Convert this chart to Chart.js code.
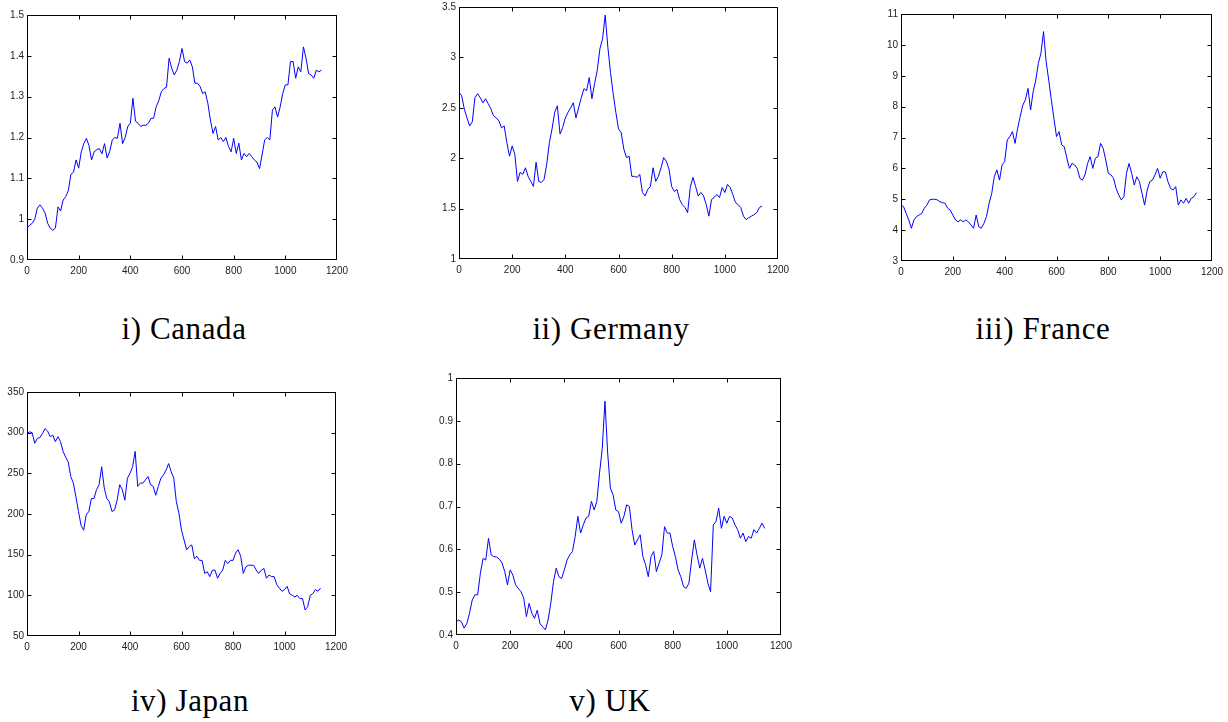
<!DOCTYPE html>
<html>
<head>
<meta charset="utf-8">
<title>Exchange rates</title>
<script src="https://cdn.jsdelivr.net/npm/chart.js@4/dist/chart.umd.min.js"></script>
<style>
    html, body { margin: 0; padding: 0; background: #fff; }
    body { position: relative; width: 1228px; height: 722px; overflow: hidden; }
    canvas { position: absolute; }
    .cap {
        position: absolute; width: 300px; margin-left: -150px; text-align: center;
        font-family: "Liberation Serif", serif; font-size: 31px; line-height: 30px;
        letter-spacing: 0.6px; color: #000; white-space: nowrap;
    }
</style>
</head>
<body>
<canvas id="canada"></canvas>
<canvas id="germany"></canvas>
<canvas id="france"></canvas>
<canvas id="japan"></canvas>
<canvas id="uk"></canvas>
<div class="cap" style="left:184px;top:314px">i) Canada</div>
<div class="cap" style="left:611px;top:314px">ii) Germany</div>
<div class="cap" style="left:1043px;top:314px">iii) France</div>
<div class="cap" style="left:190px;top:686px">iv) Japan</div>
<div class="cap" style="left:610px;top:686px">v) UK</div>

<script>
// trading days (sampled every 10)
const days = [
    0, 10, 20, 30, 40, 50, 60, 70, 80, 90,
    100, 110, 120, 130, 140, 150, 160, 170, 180, 190,
    200, 210, 220, 230, 240, 250, 260, 270, 280, 290,
    300, 310, 320, 330, 340, 350, 360, 370, 380, 390,
    400, 410, 420, 430, 440, 450, 460, 470, 480, 490,
    500, 510, 520, 530, 540, 550, 560, 570, 580, 590,
    600, 610, 620, 630, 640, 650, 660, 670, 680, 690,
    700, 710, 720, 730, 740, 750, 760, 770, 780, 790,
    800, 810, 820, 830, 840, 850, 860, 870, 880, 890,
    900, 910, 920, 930, 940, 950, 960, 970, 980, 990,
    1000, 1010, 1020, 1030, 1040, 1050, 1060, 1070, 1080, 1090,
    1100, 1110, 1120, 1130, 1140
];

const canadaRate = [
    0.978, 0.985, 0.99, 1.0, 1.027, 1.035, 1.027, 1.015, 0.99, 0.978,
    0.973, 0.978, 1.03, 1.02, 1.047, 1.055, 1.07, 1.11, 1.115, 1.145,
    1.125, 1.165, 1.185, 1.198, 1.18, 1.145, 1.165, 1.17, 1.173, 1.16,
    1.185, 1.15, 1.165, 1.194, 1.2, 1.198, 1.235, 1.185, 1.2, 1.227,
    1.235, 1.296, 1.24, 1.235, 1.227, 1.23, 1.23, 1.235, 1.247, 1.247,
    1.275, 1.29, 1.312, 1.32, 1.323, 1.394, 1.37, 1.353, 1.365, 1.386,
    1.418, 1.386, 1.382, 1.39, 1.373, 1.333, 1.333, 1.325, 1.308, 1.312,
    1.284, 1.243, 1.21, 1.227, 1.194, 1.2, 1.19, 1.2, 1.178, 1.165,
    1.198, 1.161, 1.186, 1.145, 1.161, 1.153, 1.161, 1.153, 1.145, 1.14,
    1.124, 1.157, 1.194, 1.2, 1.194, 1.267, 1.275, 1.25, 1.275, 1.308,
    1.329, 1.329, 1.386, 1.386, 1.345, 1.373, 1.361, 1.422, 1.394, 1.357,
    1.353, 1.345, 1.365, 1.361, 1.365
];

const germanyRate = [
    2.653, 2.62, 2.487, 2.40, 2.32, 2.36, 2.60, 2.64, 2.60, 2.55,
    2.59, 2.54, 2.49, 2.42, 2.40, 2.37, 2.30, 2.32, 2.155, 2.02,
    2.12, 2.04, 1.77, 1.86, 1.84, 1.905, 1.82, 1.77, 1.72, 1.96,
    1.77, 1.76, 1.79, 1.94, 2.155, 2.29, 2.455, 2.52, 2.24, 2.305,
    2.40, 2.455, 2.50, 2.55, 2.40, 2.50, 2.60, 2.69, 2.67, 2.80,
    2.59, 2.74, 2.87, 3.085, 3.185, 3.42, 3.10, 2.85, 2.64, 2.455,
    2.29, 2.255, 2.09, 2.006, 2.02, 1.82, 1.82, 1.81, 1.84, 1.66,
    1.625, 1.69, 1.72, 1.905, 1.77, 1.82, 1.905, 2.006, 1.97, 1.89,
    1.72, 1.67, 1.69, 1.59, 1.54, 1.51, 1.46, 1.71, 1.81, 1.72,
    1.625, 1.66, 1.625, 1.54, 1.425, 1.59, 1.61, 1.64, 1.61, 1.71,
    1.66, 1.74, 1.71, 1.64, 1.56, 1.54, 1.51, 1.425, 1.39, 1.41,
    1.425, 1.44, 1.46, 1.51, 1.525
];

const franceRate = [
    4.81, 4.76, 4.54, 4.33, 4.06, 4.33, 4.44, 4.49, 4.54, 4.71,
    4.81, 4.98, 5.0, 5.0, 4.98, 4.92, 4.89, 4.87, 4.71, 4.65,
    4.49, 4.33, 4.27, 4.33, 4.27, 4.33, 4.27, 4.17, 4.06, 4.49,
    4.11, 4.06, 4.22, 4.44, 4.87, 5.19, 5.73, 5.95, 5.62, 6.11,
    6.22, 6.92, 7.03, 7.19, 6.81, 7.30, 7.68, 8.05, 8.22, 8.59,
    7.89, 8.49, 8.86, 9.40, 9.73, 10.43, 9.46, 8.86, 8.22, 7.62,
    7.03, 7.19, 6.76, 6.70, 6.33, 6.0, 6.16, 6.11, 6.0, 5.68,
    5.62, 5.79, 6.16, 6.38, 6.0, 6.33, 6.38, 6.81, 6.65, 6.27,
    5.84, 5.79, 5.68, 5.35, 5.14, 4.98, 5.08, 5.84, 6.16, 5.84,
    5.46, 5.73, 5.57, 5.19, 4.81, 5.30, 5.57, 5.62, 5.79, 6.0,
    5.68, 5.89, 5.89, 5.57, 5.35, 5.30, 5.41, 4.81, 4.98, 4.87,
    5.03, 4.87, 5.03, 5.08, 5.21
];

const japanRate = [
    299, 301, 300, 287, 293, 294, 299, 305, 302, 295,
    297, 289, 295, 289, 277, 270, 264, 246, 238, 221,
    203, 186, 180, 199, 203, 219, 219, 230, 236, 258,
    232, 219, 215, 203, 205, 217, 236, 230, 217, 244,
    250, 258, 277, 234, 238, 238, 242, 246, 236, 234,
    223, 234, 244, 248, 254, 262, 252, 244, 215, 201,
    180, 168, 156, 160, 162, 145, 148, 143, 143, 127,
    129, 123, 131, 131, 121, 127, 131, 143, 139, 143,
    143, 152, 156, 148, 127, 135, 137, 137, 137, 131,
    127, 131, 133, 121, 125, 123, 123, 113, 109, 105,
    107, 111, 102, 100, 98, 100, 96, 96, 82, 86,
    100, 102, 107, 105, 109
];

const ukRate = [
    0.431, 0.435, 0.431, 0.416, 0.427, 0.451, 0.482, 0.494, 0.494, 0.544,
    0.579, 0.575, 0.626, 0.587, 0.583, 0.582, 0.577, 0.568, 0.548, 0.517,
    0.552, 0.540, 0.517, 0.509, 0.501, 0.486, 0.443, 0.474, 0.451, 0.439,
    0.458, 0.427, 0.419, 0.412, 0.435, 0.474, 0.525, 0.556, 0.536, 0.532,
    0.552, 0.575, 0.587, 0.595, 0.630, 0.677, 0.638, 0.657, 0.673, 0.677,
    0.712, 0.692, 0.712, 0.778, 0.836, 0.946, 0.825, 0.743, 0.727, 0.692,
    0.688, 0.661, 0.677, 0.704, 0.700, 0.646, 0.610, 0.622, 0.634, 0.583,
    0.564, 0.536, 0.583, 0.595, 0.548, 0.568, 0.587, 0.653, 0.638, 0.638,
    0.607, 0.583, 0.552, 0.536, 0.513, 0.509, 0.521, 0.575, 0.622, 0.587,
    0.556, 0.579, 0.552, 0.521, 0.501, 0.657, 0.665, 0.696, 0.649, 0.677,
    0.661, 0.677, 0.673, 0.657, 0.646, 0.626, 0.638, 0.618, 0.630, 0.626,
    0.646, 0.638, 0.649, 0.661, 0.649
];

// y-axis ranges: [min, max, step]
const canadaAxis = [0.9, 1.5, 0.1];
const germanyAxis = [1, 3.5, 0.5];
const franceAxis = [3, 11, 1];
const japanAxis = [50, 350, 50];
const ukAxis = [0.4, 1, 0.1];

(function () {
    const PAD_L = 30, PAD_T = 8, PAD_R = 16, PAD_B = 22;
    const TICK = 4;

    // plain numbers, no grouping and no trailing ".0"
    const plain = (v) => String(Math.round(v * 1e6) / 1e6);

    // matlab-style frame: box round the plot, ticks pointing inward on all sides
    const boxTicks = {
        id: "boxTicks",
        afterDraw(chart) {
            const { ctx, scales: { x, y } } = chart;
            const a = chart.chartArea;
            const l = Math.round(a.left) + 0.5, r = Math.round(a.right) - 0.5;
            const t = Math.round(a.top) + 0.5, b = Math.round(a.bottom) - 0.5;
            ctx.save();
            ctx.strokeStyle = "#000";
            ctx.lineWidth = 1;
            ctx.beginPath();
            x.ticks.forEach(tk => {
                const px = Math.round(x.getPixelForValue(tk.value)) + 0.5;
                if (px <= l + 1 || px >= r - 1) return;
                ctx.moveTo(px, b); ctx.lineTo(px, b - TICK);
                ctx.moveTo(px, t); ctx.lineTo(px, t + TICK);
            });
            y.ticks.forEach(tk => {
                const py = Math.round(y.getPixelForValue(tk.value)) + 0.5;
                if (py <= t + 1 || py >= b - 1) return;
                ctx.moveTo(l, py); ctx.lineTo(l + TICK, py);
                ctx.moveTo(r, py); ctx.lineTo(r - TICK, py);
            });
            ctx.stroke();
            ctx.strokeRect(l, t, r - l, b - t);
            ctx.restore();
        }
    };

    const tickFont = { family: "'Liberation Sans', Arial, sans-serif", size: 10 };

    function panel(id, box, values, axis) {
        const [left, top, right, bottom] = box;
        const canvas = document.getElementById(id);
        const w = right - left + PAD_L + PAD_R;
        const h = bottom - top + PAD_T + PAD_B;
        canvas.width = w; canvas.height = h;
        canvas.style.left = (left - PAD_L) + "px";
        canvas.style.top = (top - PAD_T) + "px";
        canvas.style.width = w + "px";
        canvas.style.height = h + "px";

        return new Chart(canvas, {
            type: "line",
            data: {
                datasets: [{
                    data: days.map((d, i) => ({ x: d, y: values[i] })),
                    borderColor: "#0000ff",
                    borderWidth: 1,
                    pointRadius: 0,
                    tension: 0
                }]
            },
            options: {
                responsive: false,
                animation: false,
                devicePixelRatio: 1,
                layout: { padding: { left: 0, top: PAD_T, right: PAD_R, bottom: 0 } },
                plugins: { legend: { display: false }, tooltip: { enabled: false } },
                scales: {
                    x: {
                        type: "linear", min: 0, max: 1200,
                        grid: { drawOnChartArea: false, drawTicks: false, color: "rgba(0,0,0,0)" },
                        border: { display: false },
                        ticks: { stepSize: 200, padding: 5, color: "#222", font: tickFont, maxRotation: 0, callback: plain },
                        afterFit(s) { s.height = PAD_B; s.paddingLeft = 0; s.paddingRight = 0; }
                    },
                    y: {
                        min: axis[0], max: axis[1],
                        grid: { drawOnChartArea: false, drawTicks: false, color: "rgba(0,0,0,0)" },
                        border: { display: false },
                        ticks: { stepSize: axis[2], padding: 3, color: "#222", font: tickFont, callback: plain },
                        afterFit(s) { s.width = PAD_L; s.paddingTop = 0; s.paddingBottom = 0; }
                    }
                }
            },
            plugins: [boxTicks]
        });
    }

    panel("canada", [27, 15, 337, 260], canadaRate, canadaAxis);
    panel("germany", [459, 7, 778, 259], germanyRate, germanyAxis);
    panel("france", [901, 14, 1212, 261], franceRate, franceAxis);
    panel("japan", [27, 392, 336, 636], japanRate, japanAxis);
    panel("uk", [456, 378, 781, 635], ukRate, ukAxis);
})();
</script>
</body>
</html>
